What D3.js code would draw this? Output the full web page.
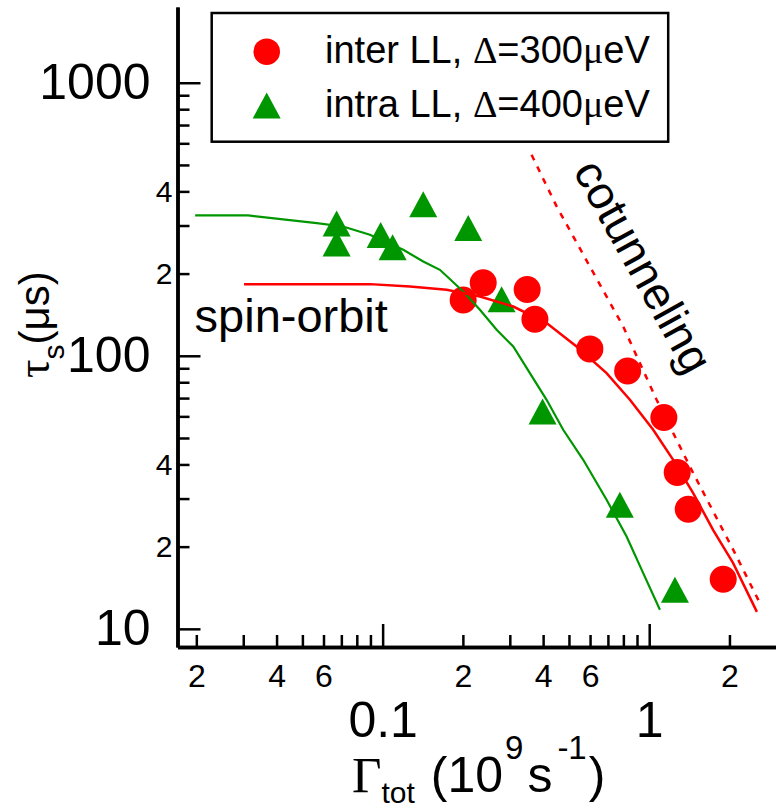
<!DOCTYPE html>
<html lang="en">
<head>
  <meta charset="UTF-8">
  <title>Spin relaxation time vs total rate</title>
  <script src="https://d3js.org/d3.v7.min.js"></script>
  <style>
    body {
      margin: 0;
      padding: 0;
      background: #ffffff;
    }
    svg {
      display: block;
    }
  </style>
</head>
<body>
  <div id="chart"></div>
  <script>
    // measured points (Gamma_tot in 1e9/s, tau_s in us)
    const interX = [0.2005, 0.2384, 0.3485, 0.3726, 0.599, 0.830, 1.135, 1.274, 1.401, 1.895];
    const interTau = [160, 185, 175, 136, 106, 88, 59.4, 37.4, 27.4, 15.2];
    const intraX = [0.0672, 0.0672, 0.0983, 0.109, 0.142, 0.2095, 0.2795, 0.398, 0.776, 1.249];
    const intraTau = [305, 258, 277, 250, 359, 294, 161, 62.5, 28.5, 13.9];

    // spin-orbit model curves
    const soInterX = [0.0302, 0.0896, 0.1266, 0.1738, 0.2317, 0.309, 0.4122, 0.534, 0.692, 0.8465, 1.035, 1.23, 1.462, 1.738, 2.065, 2.535];
    const soInterTau = [183, 183, 179.4, 174.5, 164.9, 151.5, 131.8, 108.2, 86.4, 69, 53.6, 41.6, 31.4, 23.0, 17.4, 11.54];
    const soIntraX = [0.0198, 0.0313, 0.0566, 0.071, 0.0896, 0.1195, 0.142, 0.164, 0.2005, 0.2317, 0.2677, 0.309, 0.3568, 0.4122, 0.4757, 0.5655, 0.692, 0.8226, 0.9495, 1.097];
    const soIntraTau = [326.5, 326.5, 306, 297.6, 277.4, 244.4, 221.5, 206.5, 172, 147.4, 124.5, 108.2, 86.4, 69, 53.6, 41.6, 29.7, 21.8, 16.0, 11.74];

    // cotunneling limit (dotted)
    const cotX = [0.362, 0.4495, 0.599, 0.799, 1.066, 1.462, 2.065, 2.64];
    const cotTau = [544.6, 352.4, 212.3, 128, 69, 37.2, 19.5, 12.07];

    // ticks
    const xMinorTicks = [0.02, 0.03, 0.04, 0.05, 0.06, 0.07, 0.08, 0.09, 0.2, 0.3, 0.4, 0.5, 0.6, 0.7, 0.8, 0.9, 2];
    const xMinorLabels = [0.02, 0.04, 0.06, 0.2, 0.4, 0.6, 2];
    const xMajorTicks = [0.1, 1];
    const yMinorTicks = [20, 30, 40, 50, 60, 70, 80, 90, 200, 300, 400, 500, 600, 700, 800, 900];
    const yMinorLabels = [20, 40, 200, 400];
    const yMajorTicks = [10, 100, 1000];

    const width = 776;
    const height = 810;
    const sans = "'Liberation Sans', Arial, sans-serif";
    const serif = "'Liberation Serif', 'Times New Roman', serif";
    const red = "#ff0000";
    const green = "#009600";

    const svg = d3.select("#chart")
      .append("svg")
      .attr("width", width)
      .attr("height", height);

    const x = d3.scaleLog().domain([0.017, 2.99]).range([177.5, 776]);
    const y = d3.scaleLog().domain([8.58, 1894]).range([647, 7]);

    const firstDigit = d => String(d).replace(/[0.]/g, "").charAt(0);

    // markers first, the curves are drawn over them
    svg.append("g")
      .selectAll("circle")
      .data(d3.zip(interX, interTau))
      .join("circle")
      .attr("cx", d => x(d[0]))
      .attr("cy", d => y(d[1]))
      .attr("r", 13.5)
      .attr("fill", red);

    const tri = "M0,-13L14,13L-14,13Z";
    svg.append("g")
      .selectAll("path")
      .data(d3.zip(intraX, intraTau))
      .join("path")
      .attr("transform", d => `translate(${x(d[0])},${y(d[1])})`)
      .attr("d", tri)
      .attr("fill", green);

    const line = d3.line()
      .x(d => x(d[0]))
      .y(d => y(d[1]));

    svg.append("path")
      .datum(d3.zip(soIntraX, soIntraTau))
      .attr("d", line)
      .attr("fill", "none")
      .attr("stroke", green)
      .attr("stroke-width", 2.2);

    svg.append("path")
      .datum(d3.zip(soInterX, soInterTau))
      .attr("d", line)
      .attr("fill", "none")
      .attr("stroke", red)
      .attr("stroke-width", 2.5);

    svg.append("path")
      .datum(d3.zip(cotX, cotTau))
      .attr("d", line)
      .attr("fill", "none")
      .attr("stroke", red)
      .attr("stroke-width", 2.5)
      .attr("stroke-dasharray", "6,7");

    // axes
    function styleAxis(g, size) {
      g.attr("font-family", sans).attr("font-size", size);
      g.select(".domain").attr("stroke", "#000").attr("stroke-width", 3.5);
      g.selectAll(".tick line").attr("stroke", "#000").attr("stroke-width", 2.5);
      g.selectAll(".tick text").attr("fill", "#000");
    }

    const xAxisG = svg.append("g").attr("transform", `translate(0,${y.range()[0]})`);
    xAxisG.append("g")
      .call(d3.axisBottom(x).tickValues(xMinorTicks).tickSizeInner(-12).tickSizeOuter(0).tickPadding(17)
        .tickFormat(d => xMinorLabels.includes(d) ? firstDigit(d) : ""))
      .call(g => styleAxis(g, 32));
    xAxisG.append("g")
      .call(d3.axisBottom(x).tickValues(xMajorTicks).tickSizeInner(-23).tickSizeOuter(0).tickPadding(54)
        .tickFormat(d => String(d)))
      .call(g => styleAxis(g, 50));

    const yAxisG = svg.append("g").attr("transform", `translate(${x.range()[0]},0)`);
    yAxisG.append("g")
      .call(d3.axisLeft(y).tickValues(yMinorTicks).tickSizeInner(-12).tickSizeOuter(0).tickPadding(5)
        .tickFormat(d => yMinorLabels.includes(d) ? firstDigit(d) : ""))
      .call(g => styleAxis(g, 30));
    yAxisG.append("g")
      .call(d3.axisLeft(y).tickValues(yMajorTicks).tickSizeInner(-23).tickSizeOuter(0).tickPadding(27)
        .tickFormat(d => String(d)))
      .call(g => styleAxis(g, 50));

    // axis titles
    const xt = svg.append("text")
      .attr("x", 352)
      .attr("y", 792)
      .attr("font-family", sans)
      .attr("font-size", 50)
      .attr("fill", "#000");
    xt.append("tspan").attr("font-family", serif).attr("font-size", 51).text("\u0393");
    xt.append("tspan").attr("font-size", 30).attr("dy", 11).text("tot");
    xt.append("tspan").attr("dx", 2).attr("dy", -11).text("\u00a0(10");
    xt.append("tspan").attr("font-size", 33).attr("dx", 2).attr("dy", -33).text("9");
    xt.append("tspan").attr("dx", 4).attr("dy", 33).text("s");
    xt.append("tspan").attr("font-size", 33).attr("dx", 5).attr("dy", -33).text("-1");
    xt.append("tspan").attr("dx", 2).attr("dy", 33).text(")");

    const yt = svg.append("text")
      .attr("transform", "translate(49,378) rotate(-90)")
      .attr("font-family", sans)
      .attr("font-size", 42)
      .attr("fill", "#000");
    yt.append("tspan").attr("font-family", serif).attr("font-size", 46).text("\u03c4");
    yt.append("tspan").attr("font-size", 30).attr("dy", 15).text("s");
    yt.append("tspan").attr("dy", -15).text("(\u03bcs)");

    // annotations
    svg.append("text")
      .attr("x", x(0.0197))
      .attr("y", y(122.7))
      .attr("font-family", sans)
      .attr("font-size", 47)
      .attr("fill", "#000")
      .text("spin-orbit");

    svg.append("text")
      .attr("transform", `translate(${x(0.8435)},${y(199.5)}) rotate(61)`)
      .attr("text-anchor", "middle")
      .attr("font-family", sans)
      .attr("font-size", 46)
      .attr("fill", "#000")
      .text("cotunneling");

    // legend
    const legend = svg.append("g");
    legend.append("rect")
      .attr("x", 211.7)
      .attr("y", 13)
      .attr("width", 456.5)
      .attr("height", 128.7)
      .attr("fill", "#fff")
      .attr("stroke", "#000")
      .attr("stroke-width", 2.5);

    const legendItems = [
      { sym: "circle", color: red, pre: "inter LL, ", energy: "300", cy: 51.7 },
      { sym: "triangle", color: green, pre: "intra LL, ", energy: "400", cy: 105.5 }
    ];

    legendItems.forEach(item => {
      if (item.sym === "circle") {
        legend.append("circle").attr("cx", 266.7).attr("cy", item.cy).attr("r", 13.3).attr("fill", item.color);
      } else {
        legend.append("path")
          .attr("transform", `translate(266.7,${item.cy})`)
          .attr("d", tri)
          .attr("fill", item.color);
      }
      const t = legend.append("text")
        .attr("x", 325)
        .attr("y", item.cy + 11.5)
        .attr("font-family", sans)
        .attr("font-size", 38)
        .attr("fill", "#000");
      t.append("tspan").text(item.pre);
      t.append("tspan").attr("font-family", serif).text("\u0394");
      t.append("tspan").text("=" + item.energy);
      t.append("tspan").attr("font-family", serif).text("\u03bc");
      t.append("tspan").text("eV");
    });
  </script>
</body>
</html>
